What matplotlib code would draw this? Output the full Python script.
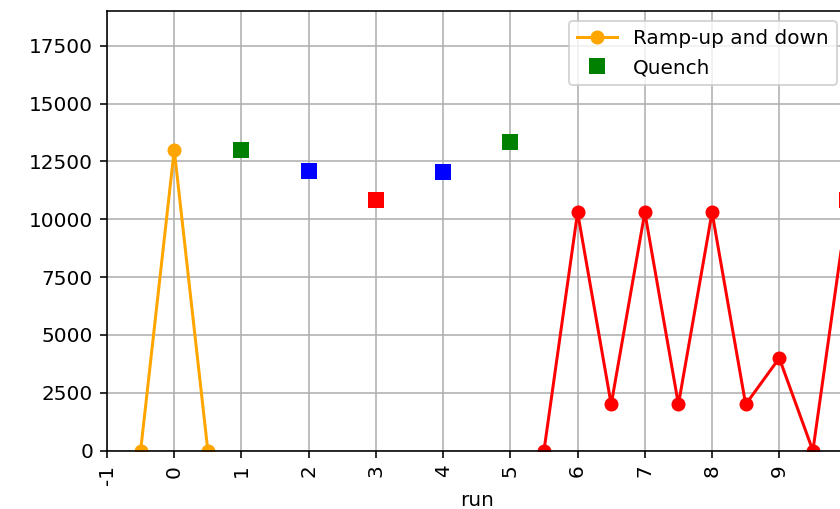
import matplotlib
matplotlib.use("Agg")
import matplotlib.pyplot as plt
import numpy as np

# ramp-up / ramp-down cycle before the first quench
ramp_x = [-0.5, 0, 0.5]
ramp_y = [0, 13000, 0]

# quench currents per run, coloured by quench type
quench_x = [1, 2, 3, 4, 5, 10]
quench_y = [13000, 12100, 10850, 12050, 13350, 10850]
quench_c = ["green", "blue", "red", "blue", "green", "red"]

# training cycles after run 5
cycle_x = [5.5, 6, 6.5, 7, 7.5, 8, 8.5, 9, 9.5, 10]
cycle_y = [0, 10300, 2000, 10300, 2000, 10300, 2000, 4000, 0, 10300]

runs = np.arange(-1, 10)

fig = plt.figure(figsize=(840 / 144, 509 / 144), dpi=144)
ax = fig.add_axes([107 / 840, 58.3 / 509, 739.5 / 840, 439.7 / 509])

ax.plot(ramp_x, ramp_y, "o-", color="orange", label="Ramp-up and down")
for i, (x, y, c) in enumerate(zip(quench_x, quench_y, quench_c)):
    ax.plot(x, y, "s", color=c, markersize=7, label="Quench" if i == 0 else None)
ax.plot(cycle_x, cycle_y, "o-", color="red")

ax.set_xlim(-1, 10)
ax.set_ylim(0, 19000)
ax.set_xticks(runs)
ax.set_xticklabels([str(r) for r in runs], rotation=90)
ax.set_xlabel("run", labelpad=3)
ax.grid(True)
ax.legend(loc="upper right")

fig.savefig("out.png", dpi=144)
